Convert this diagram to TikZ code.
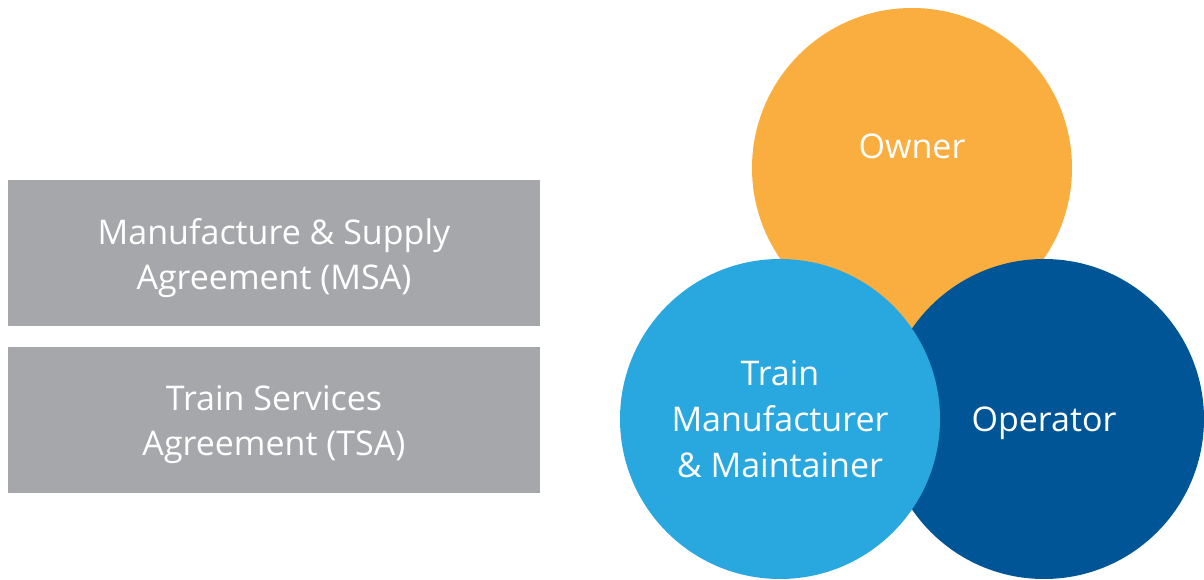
\documentclass[tikz,border=0pt]{standalone}
\usepackage{fontspec}
\setmainfont{Open Sans}
\usetikzlibrary{positioning}
\definecolor{agreegrey}{HTML}{A6A7AA}
\definecolor{ownerorange}{HTML}{FBAE40}
\definecolor{trainblue}{HTML}{29A8E0}
\definecolor{operatorblue}{HTML}{005597}
\tikzset{agreement/.style = {rectangle, fill=agreegrey, minimum width=399pt, minimum height=109.5pt, inner sep=0pt, text depth=0pt, align=center, text=white, font=\fontsize{25.5}{33.75}\selectfont}}
\tikzset{party/.style = {circle, minimum size=240pt, inner sep=0pt, text depth=0pt, align=center, text=white, font=\fontsize{25.5}{34.5}\selectfont}}
\tikzset{partytext/.style = {inner sep=0pt, text=white, font=\fontsize{25.5}{34.5}\selectfont}}

\begin{document}
\begin{tikzpicture}[x=0.75pt, y=-0.75pt]
\useasboundingbox (0,0) rectangle (1204,580);
\node [agreement] (msa) at (274,253.5) {Manufacture \& Supply\\Agreement (MSA)};
\node [agreement, below=15pt of msa] (tsa) {Train Services\\Agreement (TSA)};
\node [party, fill=ownerorange] (owner) at (912,168) {};
\node [partytext] (ownerlabel) at ([yshift=16pt]owner.center) {Owner};
\node [party, fill=operatorblue] (operator) at (1044,419) {Operator};
\node [party, fill=trainblue] (train) at (780,419) {Train\\Manufacturer\\\& Maintainer};
\end{tikzpicture}
\end{document}
